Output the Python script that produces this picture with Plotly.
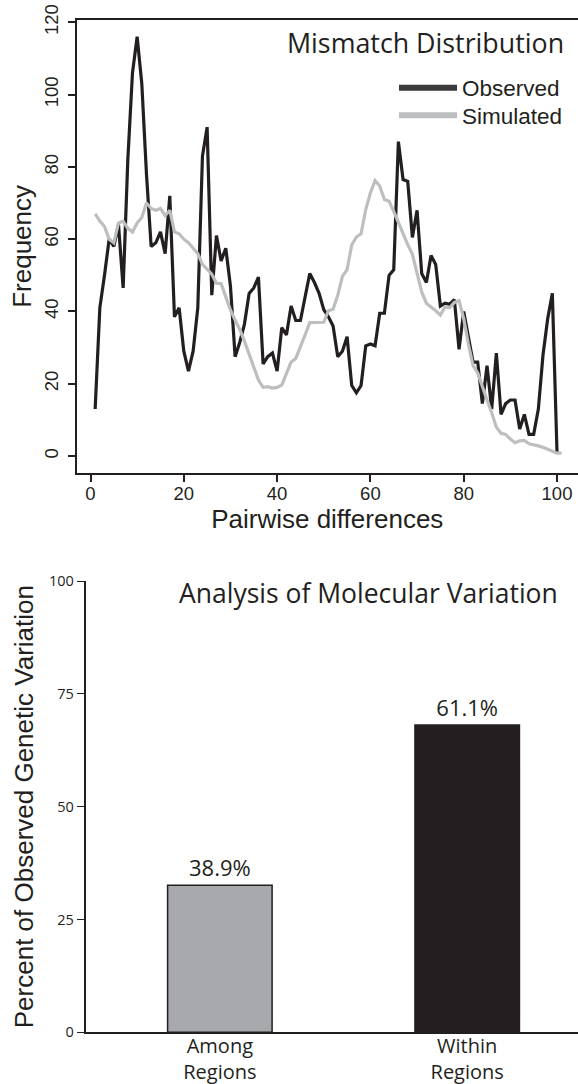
import plotly.graph_objects as go

# ---------------- data ----------------
pairwise_obs = list(range(1, 101))
observed = [13, 41, 50, 60, 58, 64, 46.5, 82, 106, 116,
            103, 78, 58, 59, 62, 56, 72, 38.5, 41, 29,
            23.5, 29, 41, 83, 91, 44.5, 61, 54, 57.5, 47,
            27.5, 31.5, 36.5, 45, 46.5, 49.5, 25.5, 27.5, 28.5, 23.5,
            35.5, 33.5, 41.5, 37.5, 37.5, 44, 50.5, 48, 45, 40.5,
            38.5, 36, 27.5, 29, 33, 19.5, 17.5, 19.5, 30.5, 31,
            30.5, 39.5, 39.5, 50, 51.5, 87, 76.5, 76, 60.5, 68,
            50.5, 48, 55.5, 53, 41.5, 42.3, 42, 43.3, 29.5, 40,
            33, 26, 26, 14.5, 25, 13, 28.5, 11.5, 14.5, 15.5,
            15.5, 7.5, 11.5, 6, 6, 13, 28, 38, 45, 1]

pairwise_sim = list(range(1, 102))
simulated = [67, 65, 63.5, 60, 59, 64.5, 65, 63, 62, 64.5,
             66, 70, 68.5, 68, 68.5, 66.5, 68, 62, 61.5, 60,
             59, 57.5, 56, 53, 51.5, 50.3, 47.8, 47.7, 44, 40.4,
             37.6, 35, 31.8, 28, 24.7, 21, 19, 19.2, 18.8, 19,
             19.6, 23, 26, 27, 30, 33.5, 36.9, 36.9, 36.8, 37,
             40.2, 40.6, 44.5, 49.7, 51.6, 58.4, 60.6, 61.5, 68.2, 72.8,
             76.2, 74.7, 71, 70.5, 67.7, 64.5, 61.4, 58.5, 55.8, 50.2,
             45.4, 42.3, 41.3, 40.2, 39, 41.3, 41, 42.5, 43, 38,
             31, 25, 23, 19, 15.5, 12, 8, 6.3, 6, 4.7,
             3.7, 4.2, 4.3, 3.4, 3.2, 2.8, 2.4, 1.9, 1.2, 0.8, 0.8]

x_ticks_top = [0, 20, 40, 60, 80, 100]
y_ticks_top = [0, 20, 40, 60, 80, 100, 120]

amova_categories = ["Among Regions", "Within Regions"]
amova_values = [32.6, 68.1]
amova_labels = ["38.9%", "61.1%"]
y_ticks_bottom = [0, 25, 50, 75, 100]

# ---------------- styling ----------------
W, H = 578, 1084
BLACK = "#231f20"
GRAY_LINE = "#bcbec0"
GRAY_BAR = "#a7a9ac"
R_FONT = "Liberation Sans, Arial, sans-serif"
M_FONT = "Open Sans, Noto Sans, sans-serif"

def px_x(p):
    return p / W

def px_y(p):
    return (H - p) / H

fig = go.Figure()

# legend-only samples (thicker, as in the reference legend)
fig.add_trace(go.Scatter(x=[None], y=[None], mode="lines", name="Observed",
                         line=dict(color="#3a3a3c", width=6),
                         xaxis="x", yaxis="y", showlegend=True, legend="legend"))
fig.add_trace(go.Scatter(x=[None], y=[None], mode="lines", name="Simulated",
                         line=dict(color=GRAY_LINE, width=6),
                         xaxis="x", yaxis="y", showlegend=True, legend="legend2"))

fig.add_trace(go.Scatter(x=pairwise_obs, y=observed, mode="lines",
                         line=dict(color=BLACK, width=3.2),
                         xaxis="x", yaxis="y", showlegend=False, name="Observed"))
fig.add_trace(go.Scatter(x=pairwise_sim, y=simulated, mode="lines",
                         line=dict(color=GRAY_LINE, width=3.2),
                         xaxis="x", yaxis="y", showlegend=False, name="Simulated"))

fig.add_trace(go.Bar(x=amova_categories, y=amova_values,
                     text=amova_labels, textposition="outside",
                     textfont=dict(family=M_FONT, size=22, color=BLACK),
                     marker=dict(color=[GRAY_BAR, BLACK],
                                 line=dict(color=BLACK, width=1.5)),
                     width=0.4225, cliponaxis=False,
                     xaxis="x2", yaxis="y2", showlegend=False))

legend_common = dict(xanchor="left", yanchor="middle",
                     bgcolor="rgba(0,0,0,0)", borderwidth=0,
                     font=dict(family=R_FONT, size=22.5, color=BLACK),
                     itemwidth=58)

fig.update_layout(
    width=W, height=H,
    margin=dict(l=0, r=0, t=0, b=0, autoexpand=False),
    paper_bgcolor="white", plot_bgcolor="white",
    font=dict(family=R_FONT, color=BLACK),
    xaxis=dict(domain=[px_x(76.5), 1], range=[-3, 104.5], automargin=False,
               showgrid=False, zeroline=False,
               showline=True, mirror=True, linecolor=BLACK, linewidth=2,
               ticks="outside", ticklen=7, tickwidth=1.5, tickcolor=BLACK,
               tickvals=x_ticks_top, tickfont=dict(family=R_FONT, size=18.5),
               ticklabelstandoff=-4, ticklabeloverflow="allow",
               title=dict(text="Pairwise differences",
                          font=dict(family=R_FONT, size=26), standoff=0),
               anchor="y"),
    yaxis=dict(domain=[px_y(472.8), px_y(20)], range=[-4.64, 120.64], automargin=False,
               showgrid=False, zeroline=False,
               showline=True, mirror=False, linecolor=BLACK, linewidth=2,
               ticks="outside", ticklen=7, tickwidth=1.5, tickcolor=BLACK,
               tickvals=y_ticks_top, tickangle=-90,
               tickfont=dict(family=R_FONT, size=18.5),
               ticklabelstandoff=2, ticklabeloverflow="allow",
               title=dict(text="Frequency",
                          font=dict(family=R_FONT, size=26), standoff=2),
               anchor="x"),
    xaxis2=dict(domain=[px_x(85.5), 1], range=[-0.5432, 1.448], automargin=False,
                showgrid=False, zeroline=False,
                showline=True, linecolor=BLACK, linewidth=2,
                ticks="", tickvals=amova_categories,
                ticktext=[c.replace(" ", "<br>") for c in amova_categories],
                tickfont=dict(family=M_FONT, size=20),
                ticklabelstandoff=-5, ticklabeloverflow="allow",
                anchor="y2"),
    yaxis2=dict(domain=[px_y(1032.3), px_y(581)], range=[0, 100], automargin=False,
                showgrid=False, zeroline=False,
                showline=True, linecolor=BLACK, linewidth=1.5,
                ticks="outside", ticklen=7, tickwidth=1.2, tickcolor=BLACK,
                tickvals=y_ticks_bottom,
                tickfont=dict(family=M_FONT, size=14.5),
                title=dict(text="Percent of Observed Genetic Variation",
                           font=dict(family=R_FONT, size=26), standoff=8),
                anchor="x2"),
    legend=dict(x=px_x(394), y=px_y(88), **legend_common),
    legend2=dict(x=px_x(394), y=px_y(115.7), **legend_common),
    annotations=[
        dict(text="Mismatch Distribution", xref="paper", yref="paper",
             x=px_x(566), y=px_y(43), xanchor="right", yanchor="middle",
             showarrow=False, font=dict(family=M_FONT, size=26.8, color=BLACK)),
        dict(text="Analysis of Molecular Variation", xref="paper", yref="paper",
             x=px_x(560), y=px_y(593), xanchor="right", yanchor="middle",
             showarrow=False, font=dict(family=M_FONT, size=26.5, color=BLACK)),
    ],
)

# remove the default page margin so the 578x1084 figure fills the window exactly
fig.write_html("out.html",
               config={"displayModeBar": False},
               post_script="document.body.style.margin='0';document.body.style.overflow='hidden';")
